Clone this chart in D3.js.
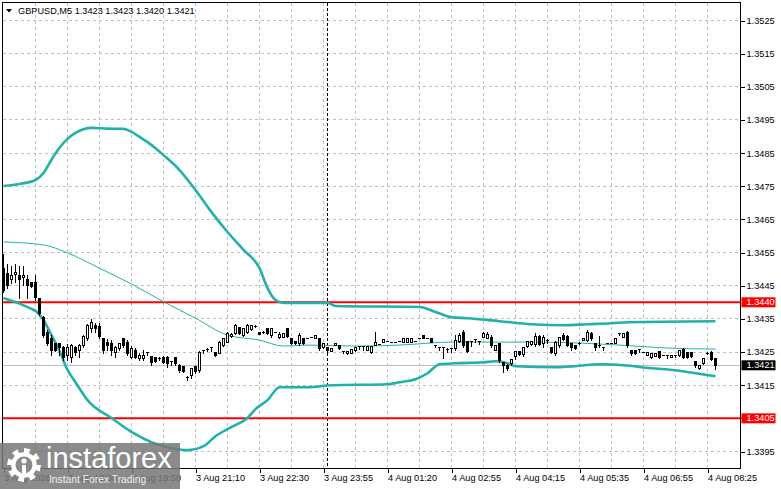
<!DOCTYPE html>
<html lang="en">
<head>
<meta charset="UTF-8">
<title>GBPUSD,M5</title>
<script src="https://d3js.org/d3.v7.min.js"></script>
<style>
  body { margin: 0; background: #fff; }
  svg text { font-family: "Liberation Sans", Arial, sans-serif; font-size: 9.2px; fill: #000; }
</style>
</head>
<body>
<svg id="chart" width="781" height="489"></svg>
<script>
// OHLC of the 5-minute bars (bar 0 = 3 Aug ~17:10)
const opens = [
  1.34502,1.34487,1.34469,1.34484,1.34481,1.34475,1.34469,1.34459,1.34459,1.34411,
  1.34354,1.34309,1.34290,1.34275,1.34275,1.34263,1.34239,1.34233,1.34263,1.34254,
  1.34269,1.34290,1.34321,1.34330,1.34327,1.34290,1.34278,1.34275,1.34248,1.34260,
  1.34290,1.34278,1.34233,1.34254,1.34230,1.34230,1.34248,1.34236,1.34233,1.34230,
  1.34233,1.34233,1.34221,1.34233,1.34209,1.34206,1.34173,1.34179,1.34206,1.34194,
  1.34254,1.34257,1.34263,1.34248,1.34245,1.34269,1.34278,1.34296,1.34306,1.34324,
  1.34300,1.34309,1.34318,1.34327,1.34309,1.34309,1.34321,1.34300,1.34309,1.34294,
  1.34294,1.34321,1.34290,1.34281,1.34275,1.34290,1.34290,1.34293,1.34290,1.34290,
  1.34263,1.34263,1.34251,1.34269,1.34269,1.34251,1.34245,1.34245,1.34254,1.34266,
  1.34266,1.34254,1.34248,1.34269,1.34272,1.34278,1.34281,1.34278,1.34278,1.34281,
  1.34278,1.34278,1.34278,1.34281,1.34290,1.34300,1.34290,1.34290,1.34269,1.34263,
  1.34263,1.34257,1.34260,1.34260,1.34281,1.34309,1.34281,1.34281,1.34287,1.34281,
  1.34293,1.34290,1.34293,1.34254,1.34275,1.34218,1.34209,1.34215,1.34236,1.34251,
  1.34242,1.34266,1.34272,1.34272,1.34297,1.34275,1.34284,1.34263,1.34245,1.34269,
  1.34300,1.34297,1.34275,1.34269,1.34275,1.34284,1.34284,1.34306,1.34275,1.34269,
  1.34263,1.34275,1.34275,1.34275,1.34306,1.34294,1.34309,1.34254,1.34254,1.34257,
  1.34248,1.34239,1.34233,1.34236,1.34251,1.34239,1.34239,1.34233,1.34239,1.34239,
  1.34257,1.34248,1.34248,1.34221,1.34200,1.34215,1.34245,1.34248,1.34230
];
const highs = [
  1.34547,1.34517,1.34511,1.34517,1.34511,1.34511,1.34481,1.34462,1.34481,1.34414,
  1.34360,1.34315,1.34300,1.34278,1.34278,1.34269,1.34275,1.34275,1.34269,1.34275,
  1.34300,1.34336,1.34351,1.34339,1.34339,1.34293,1.34290,1.34287,1.34269,1.34275,
  1.34290,1.34287,1.34269,1.34263,1.34248,1.34257,1.34251,1.34239,1.34236,1.34236,
  1.34239,1.34239,1.34221,1.34233,1.34215,1.34209,1.34179,1.34200,1.34209,1.34254,
  1.34254,1.34263,1.34263,1.34251,1.34284,1.34293,1.34309,1.34306,1.34336,1.34327,
  1.34324,1.34336,1.34333,1.34333,1.34309,1.34312,1.34324,1.34321,1.34309,1.34309,
  1.34306,1.34324,1.34293,1.34284,1.34306,1.34293,1.34290,1.34293,1.34300,1.34290,
  1.34275,1.34263,1.34260,1.34278,1.34272,1.34251,1.34251,1.34257,1.34263,1.34266,
  1.34269,1.34266,1.34269,1.34309,1.34272,1.34287,1.34281,1.34278,1.34278,1.34281,
  1.34290,1.34290,1.34290,1.34281,1.34290,1.34300,1.34290,1.34290,1.34269,1.34263,
  1.34263,1.34263,1.34260,1.34300,1.34306,1.34315,1.34284,1.34281,1.34287,1.34281,
  1.34309,1.34309,1.34300,1.34272,1.34275,1.34218,1.34215,1.34230,1.34254,1.34254,
  1.34266,1.34284,1.34284,1.34306,1.34300,1.34300,1.34290,1.34266,1.34284,1.34293,
  1.34306,1.34300,1.34278,1.34269,1.34281,1.34290,1.34315,1.34309,1.34278,1.34297,
  1.34263,1.34275,1.34275,1.34293,1.34306,1.34306,1.34312,1.34257,1.34257,1.34257,
  1.34248,1.34251,1.34245,1.34245,1.34254,1.34239,1.34239,1.34242,1.34239,1.34257,
  1.34263,1.34251,1.34251,1.34224,1.34212,1.34233,1.34251,1.34254,1.34232
];
const lows = [
  1.34429,1.34441,1.34456,1.34459,1.34411,1.34450,1.34411,1.34444,1.34405,1.34360,
  1.34293,1.34269,1.34239,1.34251,1.34239,1.34224,1.34224,1.34218,1.34239,1.34233,
  1.34263,1.34284,1.34309,1.34309,1.34290,1.34245,1.34254,1.34239,1.34233,1.34254,
  1.34263,1.34239,1.34230,1.34230,1.34224,1.34224,1.34239,1.34209,1.34218,1.34224,
  1.34215,1.34203,1.34209,1.34209,1.34188,1.34188,1.34164,1.34170,1.34185,1.34188,
  1.34245,1.34251,1.34251,1.34236,1.34245,1.34266,1.34278,1.34293,1.34303,1.34303,
  1.34297,1.34306,1.34315,1.34324,1.34303,1.34306,1.34303,1.34293,1.34309,1.34290,
  1.34294,1.34293,1.34272,1.34272,1.34269,1.34272,1.34290,1.34293,1.34290,1.34254,
  1.34260,1.34245,1.34251,1.34269,1.34257,1.34245,1.34242,1.34245,1.34251,1.34257,
  1.34254,1.34254,1.34245,1.34269,1.34272,1.34278,1.34281,1.34278,1.34278,1.34281,
  1.34278,1.34278,1.34278,1.34281,1.34290,1.34290,1.34290,1.34278,1.34263,1.34254,
  1.34230,1.34248,1.34248,1.34254,1.34278,1.34263,1.34248,1.34266,1.34278,1.34272,
  1.34293,1.34290,1.34263,1.34254,1.34218,1.34188,1.34194,1.34209,1.34227,1.34239,
  1.34236,1.34263,1.34269,1.34266,1.34269,1.34263,1.34275,1.34245,1.34239,1.34263,
  1.34284,1.34266,1.34254,1.34257,1.34272,1.34284,1.34281,1.34284,1.34254,1.34263,
  1.34254,1.34275,1.34275,1.34275,1.34300,1.34294,1.34263,1.34239,1.34242,1.34248,
  1.34248,1.34239,1.34230,1.34236,1.34230,1.34239,1.34230,1.34233,1.34233,1.34236,
  1.34230,1.34230,1.34233,1.34203,1.34197,1.34212,1.34242,1.34224,1.34198
];
const closes = [
  1.34435,1.34450,1.34481,1.34490,1.34469,1.34481,1.34450,1.34447,1.34414,1.34366,
  1.34300,1.34275,1.34254,1.34254,1.34263,1.34233,1.34263,1.34269,1.34248,1.34269,
  1.34297,1.34330,1.34339,1.34321,1.34297,1.34254,1.34269,1.34254,1.34263,1.34275,
  1.34269,1.34245,1.34260,1.34233,1.34239,1.34239,1.34248,1.34218,1.34221,1.34230,
  1.34218,1.34215,1.34221,1.34215,1.34194,1.34191,1.34173,1.34200,1.34191,1.34248,
  1.34254,1.34257,1.34263,1.34239,1.34278,1.34290,1.34306,1.34303,1.34330,1.34306,
  1.34321,1.34330,1.34330,1.34327,1.34303,1.34309,1.34306,1.34321,1.34309,1.34303,
  1.34306,1.34297,1.34275,1.34275,1.34300,1.34275,1.34290,1.34293,1.34300,1.34260,
  1.34275,1.34254,1.34260,1.34275,1.34260,1.34251,1.34251,1.34257,1.34263,1.34266,
  1.34266,1.34266,1.34266,1.34278,1.34272,1.34287,1.34281,1.34278,1.34278,1.34281,
  1.34290,1.34290,1.34290,1.34281,1.34290,1.34290,1.34290,1.34278,1.34269,1.34263,
  1.34263,1.34257,1.34260,1.34284,1.34300,1.34269,1.34251,1.34281,1.34287,1.34281,
  1.34306,1.34303,1.34269,1.34269,1.34224,1.34209,1.34200,1.34227,1.34251,1.34242,
  1.34263,1.34281,1.34281,1.34297,1.34272,1.34293,1.34284,1.34248,1.34278,1.34293,
  1.34287,1.34269,1.34263,1.34260,1.34275,1.34290,1.34309,1.34290,1.34263,1.34269,
  1.34263,1.34275,1.34275,1.34290,1.34306,1.34306,1.34269,1.34245,1.34245,1.34257,
  1.34248,1.34248,1.34245,1.34245,1.34233,1.34239,1.34239,1.34239,1.34239,1.34254,
  1.34233,1.34233,1.34236,1.34209,1.34209,1.34230,1.34245,1.34227,1.34210
];

// Bollinger bands, read at sample bars: [bar, price]
const upperBand = [
  [0,1.34751],[4,1.34757],[8,1.34769],[10,1.34790],[12,1.34830],[14,1.34866],
  [16,1.34893],[18,1.34911],[20,1.34922],[22,1.34926],[26,1.34924],[30,1.34923],
  [32,1.34914],[34,1.34899],[36,1.34883],[38,1.34865],[40,1.34844],[44,1.34799],
  [48,1.34739],[52,1.34672],[56,1.34612],[60,1.34558],[64,1.34503],[66,1.34443],
  [68,1.34407],[70,1.34398],[81,1.34398],[83,1.34389],[104,1.34386],[108,1.34371],
  [112,1.34355],[116,1.34352],[124,1.34343],[132,1.34334],[140,1.34331],[146,1.34334],
  [152,1.34337],[156,1.34340],[178,1.34343]
];
const middleBand = [
  [0,1.34582],[10,1.34573],[16,1.34549],[24,1.34503],[32,1.34455],[40,1.34402],
  [48,1.34352],[56,1.34301],[64,1.34286],[70,1.34268],[76,1.34271],[88,1.34268],
  [99,1.34271],[112,1.34280],[122,1.34280],[134,1.34280],[154,1.34271],[166,1.34262],
  [178,1.34259]
];
const lowerBand = [
  [0,1.34413],[4,1.34396],[7,1.34380],[8,1.34374],[10,1.34346],[12,1.34301],
  [14,1.34253],[16,1.34196],[18,1.34159],[21,1.34105],[27,1.34051],[32,1.34009],
  [37,1.33978],[41,1.33963],[46,1.33954],[50,1.33966],[53,1.33996],[57,1.34024],
  [61,1.34051],[63,1.34078],[66,1.34105],[69,1.34144],[76,1.34144],[82,1.34150],
  [96,1.34153],[99,1.34159],[103,1.34168],[106,1.34186],[109,1.34213],[113,1.34216],
  [120,1.34219],[123,1.34222],[126,1.34216],[128,1.34207],[138,1.34204],[150,1.34213],
  [155,1.34210],[162,1.34201],[168,1.34195],[173,1.34186],[178,1.34177]
];

const timeLabels = ["3 Aug 2026","3 Aug 18:30","3 Aug 19:50","3 Aug 21:10","3 Aug 22:30","3 Aug 23:55",
                    "4 Aug 01:20","4 Aug 02:55","4 Aug 04:15","4 Aug 05:35","4 Aug 06:55","4 Aug 08:25"];
const labelBars = [0,16,32,48,64,80,96,112,128,144,160,176];
const priceTicks = [1.3525,1.3515,1.3505,1.3495,1.3485,1.3475,1.3465,1.3455,1.3445,1.3435,1.3425,1.3415,1.3405,1.3395];
const levels = [1.3440, 1.3405];
const lastPrice = 1.3421;
const dayBreakBar = 81;
const title = "GBPUSD,M5  1.3423 1.3423 1.3420 1.3421";

const svg = d3.select("#chart");
const plotL = 2.5, plotR = 740.5, plotT = 2.5, plotB = 468.5;

// 4 px per bar, 185 slots across the window
const x = d3.scaleLinear().domain([0, 184]).range([3.5, 739.5]);
const y = d3.scaleLinear().domain([1.3395, 1.3525]).range([451.5, 20.5]);
const snap = v => Math.round(v - 0.5) + 0.5;

// grid
const grid = svg.append("g").attr("stroke", "#c0c0c0").attr("stroke-dasharray", "3,3")
  .attr("shape-rendering", "crispEdges");
grid.selectAll(".h").data(priceTicks).enter().append("line")
  .attr("x1", plotL).attr("x2", plotR)
  .attr("y1", d => snap(y(d))).attr("y2", d => snap(y(d)));
grid.selectAll(".v").data(d3.range(8, 184, 8)).enter().append("line")
  .attr("y1", plotT).attr("y2", plotB)
  .attr("x1", d => x(d)).attr("x2", d => x(d));

// day separator
svg.append("line")
  .attr("x1", x(dayBreakBar)).attr("x2", x(dayBreakBar)).attr("y1", plotT).attr("y2", plotB)
  .attr("stroke", "#000").attr("stroke-dasharray", "3,2").attr("shape-rendering", "crispEdges");

// last price line
svg.append("line")
  .attr("x1", plotL).attr("x2", plotR)
  .attr("y1", snap(y(lastPrice))).attr("y2", snap(y(lastPrice)))
  .attr("stroke", "#c0c0c0").attr("shape-rendering", "crispEdges");

// support / resistance levels
svg.selectAll(".lvl").data(levels).enter().append("line")
  .attr("x1", plotL).attr("x2", plotR)
  .attr("y1", d => y(d)).attr("y2", d => y(d))
  .attr("stroke", "#ff0000").attr("stroke-width", 2);

// bands
const bandLine = d3.line().x(d => x(d[0])).y(d => y(d[1])).curve(d3.curveMonotoneX);
svg.append("path").attr("d", bandLine(middleBand))
  .attr("fill", "none").attr("stroke", "#20b2aa").attr("stroke-width", 1);
[upperBand, lowerBand].forEach(b => {
  svg.append("path").attr("d", bandLine(b))
    .attr("fill", "none").attr("stroke", "#20b2aa").attr("stroke-width", 2.6);
});

// candles
const bars = opens.map((o, i) => ({ i, o, h: highs[i], l: lows[i], c: closes[i] }));
const cg = svg.append("g").attr("shape-rendering", "crispEdges");
cg.selectAll(".wick").data(bars).enter().append("line")
  .attr("x1", d => x(d.i)).attr("x2", d => x(d.i))
  .attr("y1", d => y(d.h)).attr("y2", d => y(d.l) + 0.5)
  .attr("stroke", "#000");
cg.selectAll(".body").data(bars).enter().append("rect")
  .attr("x", d => x(d.i) - 1).attr("width", 2)
  .attr("y", d => y(Math.max(d.o, d.c)))
  .attr("height", d => Math.max(Math.abs(y(d.o) - y(d.c)), 0.1))
  .attr("fill", d => d.c < d.o ? "#000" : "#fff")
  .attr("stroke", "#000");

// frame
svg.append("rect").attr("x", plotL).attr("y", plotT)
  .attr("width", plotR - plotL).attr("height", plotB - plotT)
  .attr("fill", "none").attr("stroke", "#000").attr("shape-rendering", "crispEdges");

// price axis
const yAxis = d3.axisRight(y).tickValues(priceTicks).tickSize(4).tickPadding(2)
  .tickFormat(d3.format(".4f"));
const ya = svg.append("g").attr("transform", `translate(${plotR},0)`).call(yAxis);
ya.select(".domain").remove();
ya.selectAll("line").attr("stroke", "#000").attr("shape-rendering", "crispEdges");
ya.selectAll("text").attr("font-size", null).attr("font-family", null);

// level / last price tags
const tags = levels.map(v => ({ v, fill: "#ff0000" })).concat([{ v: lastPrice, fill: "#000" }]);
const tg = svg.selectAll(".tag").data(tags).enter().append("g");
tg.append("rect").attr("x", plotR + 1).attr("width", 34)
  .attr("y", d => y(d.v) - 5).attr("height", 10).attr("fill", d => d.fill);
tg.append("text").attr("x", plotR + 6).attr("y", d => y(d.v)).attr("dy", "0.34em")
  .style("fill", "#fff").text(d => d.v.toFixed(4));

// time axis
const xAxis = d3.axisBottom(x).tickValues(labelBars).tickSize(4).tickPadding(2)
  .tickFormat((d, i) => timeLabels[i]);
const xa = svg.append("g").attr("transform", `translate(0,${plotB})`).call(xAxis);
xa.select(".domain").remove();
xa.selectAll("line").attr("stroke", "#000").attr("shape-rendering", "crispEdges");
xa.selectAll("text").attr("text-anchor", "start").attr("x", 0)
  .attr("font-size", null).attr("font-family", null);

// title
svg.append("path").attr("d", "M6,9L12,9L9,12.5Z").attr("fill", "#000");
svg.append("text").attr("x", 18).attr("y", 14).text(title);

// watermark
const logo = svg.append("g");
logo.append("rect").attr("x", 0).attr("y", 443).attr("width", 180).attr("height", 46)
  .attr("fill", "#777").attr("opacity", 0.85);
const gear = d3.path();
const gx = 24, gy = 465, teeth = 8;
for (let k = 0; k < teeth * 2; k++) {
  const r = k % 2 === 0 ? 17 : 13;
  const a0 = (k / (teeth * 2)) * 2 * Math.PI, a1 = ((k + 1) / (teeth * 2)) * 2 * Math.PI;
  const p0 = [gx + r * Math.cos(a0), gy + r * Math.sin(a0)];
  const p1 = [gx + r * Math.cos(a1), gy + r * Math.sin(a1)];
  if (k === 0) gear.moveTo(p0[0], p0[1]); else gear.lineTo(p0[0], p0[1]);
  gear.lineTo(p1[0], p1[1]);
}
gear.closePath();
logo.append("path").attr("d", gear.toString()).attr("fill", "#fff");
logo.append("circle").attr("cx", gx).attr("cy", gy).attr("r", 8.5).attr("fill", "#8b8b8b");
logo.append("circle").attr("cx", gx).attr("cy", gy - 4).attr("r", 2.6).attr("fill", "#fff");
logo.append("rect").attr("x", gx - 2).attr("y", gy).attr("width", 4).attr("height", 9).attr("fill", "#fff");
logo.append("text").attr("x", 46).attr("y", 468).style("font-size", "29px").style("fill", "#fff")
  .text("instaforex");
logo.append("text").attr("x", 49).attr("y", 483).style("font-size", "10.3px").style("fill", "#eee")
  .text("Instant Forex Trading");
</script>
</body>
</html>
